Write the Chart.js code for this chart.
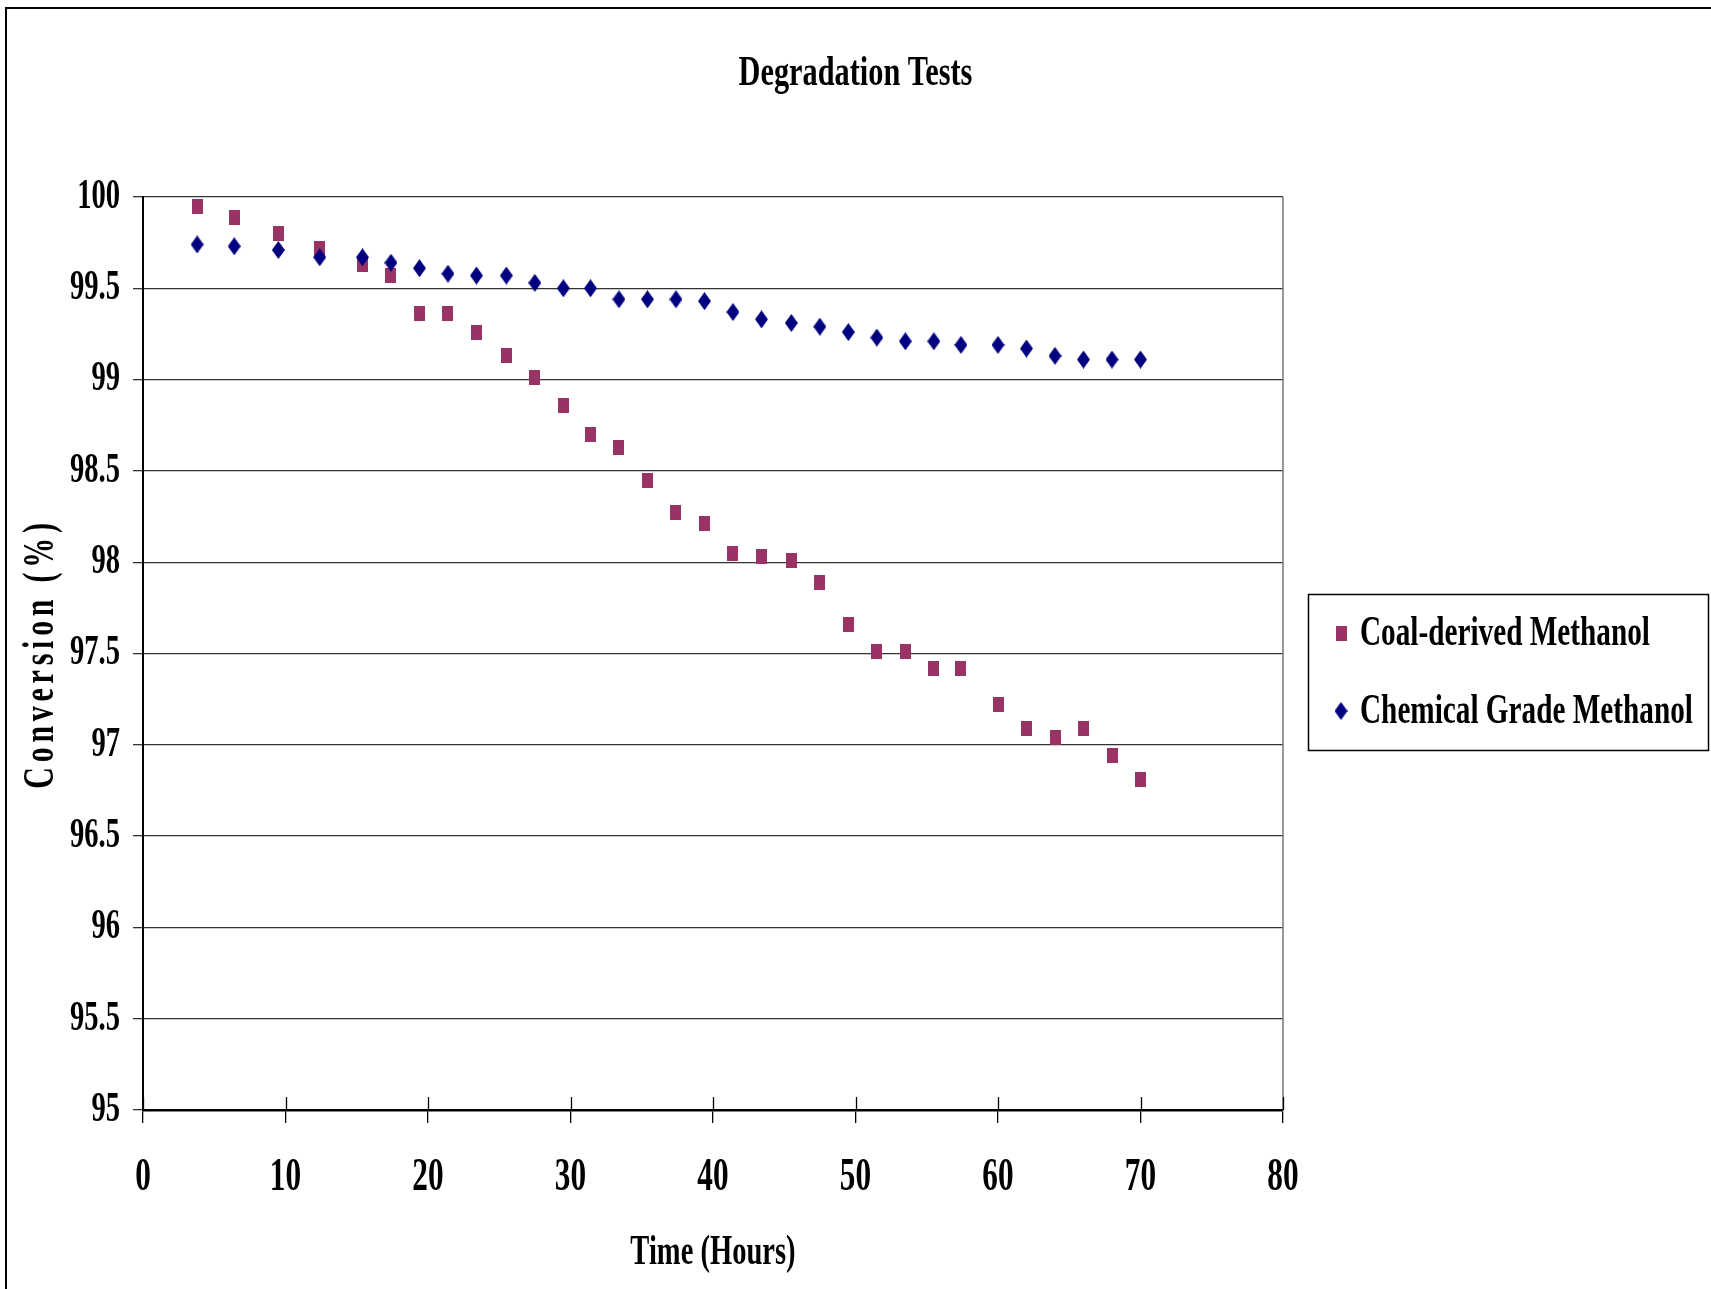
<!DOCTYPE html>
<html>
<head>
<meta charset="utf-8">
<script src="https://cdn.jsdelivr.net/npm/chart.js@4.4.1/dist/chart.umd.min.js"></script>
<style>
  html, body { margin: 0; padding: 0; background: #fff; }
  canvas { display: block; }
</style>
</head>
<body>
<canvas id="c" width="1711" height="1289"></canvas>
<script>
// ---- data ----
const timeHours = [3.8, 6.4, 9.5, 12.4, 15.4, 17.4, 19.4, 21.4, 23.4, 25.5, 27.5, 29.5, 31.4, 33.4, 35.4, 37.4,
                   39.4, 41.4, 43.4, 45.5, 47.5, 49.5, 51.5, 53.5, 55.5, 57.4, 60.0, 62.0, 64.0, 66.0, 68.0, 70.0];
const coalDerived = [99.95, 99.89, 99.80, 99.72, 99.63, 99.57, 99.36, 99.36, 99.26, 99.13, 99.01, 98.86, 98.70, 98.63, 98.45, 98.27,
                     98.21, 98.05, 98.03, 98.01, 97.89, 97.66, 97.51, 97.51, 97.42, 97.42, 97.22, 97.09, 97.04, 97.09, 96.94, 96.81];
const chemicalGrade = [99.74, 99.73, 99.71, 99.67, 99.67, 99.64, 99.61, 99.58, 99.57, 99.57, 99.53, 99.50, 99.50, 99.44, 99.44, 99.44,
                       99.43, 99.37, 99.33, 99.31, 99.29, 99.26, 99.23, 99.21, 99.21, 99.19, 99.19, 99.17, 99.13, 99.11, 99.11, 99.11];
const seriesLabels = ['Coal-derived Methanol', 'Chemical Grade Methanol'];
const xTickLabels = ['0', '10', '20', '30', '40', '50', '60', '70', '80'];
const yTickLabels = ['95', '95.5', '96', '96.5', '97', '97.5', '98', '98.5', '99', '99.5', '100'];
const chartTitle = 'Degradation Tests';
const xTitle = 'Time (Hours)';
const yTitle = 'Conversion (%)';

// ---- styles ----
const FONT = 'Liberation Serif';
const PINK = '#993366';
const NAVY = '#000080';

function makeMarker(w, h, color, diamond) {
  const c = document.createElement('canvas');
  c.width = w; c.height = h;
  const g = c.getContext('2d');
  g.fillStyle = color;
  if (diamond) {
    g.beginPath();
    g.moveTo(w / 2, 0); g.lineTo(w, h / 2); g.lineTo(w / 2, h); g.lineTo(0, h / 2);
    g.closePath(); g.fill();
  } else {
    g.fillRect(0, 0, w, h);
  }
  return c;
}
const squareMarker = makeMarker(11, 15, PINK, false);
const diamondMarker = makeMarker(13, 18, NAVY, true);

const canvas = document.getElementById('c');
const ctx = canvas.getContext('2d');

// Narrow (condensed) rendering of the serif text, like the original.
const origFill = ctx.fillText.bind(ctx);
ctx.fillText = function (text, x, y, maxWidth) {
  let sx = 0.68, ls = '0px';
  if (text === yTitle) { sx = 0.68; ls = '7px'; }
  else if (text === chartTitle) { sx = 0.705; }
  this.save();
  this.translate(x, y);
  this.scale(sx, 1);
  try { this.letterSpacing = ls; } catch (e) {}
  if (maxWidth !== undefined && maxWidth !== null) origFill(text, 0, 0, maxWidth / sx);
  else origFill(text, 0, 0);
  this.restore();
};

const decorPlugin = {
  id: 'decor',
  afterDraw(chart) {
    const c = chart.ctx;
    const a = chart.chartArea;
    c.save();
    // outer frame (top and left edges visible)
    c.strokeStyle = '#000';
    c.lineWidth = 2;
    c.strokeRect(6, 8, 3000, 3000);
    // plot right border
    c.strokeStyle = '#777';
    c.lineWidth = 1.5;
    c.beginPath();
    c.moveTo(a.right, a.top);
    c.lineTo(a.right, a.bottom);
    c.stroke();
    // inner half of x tick marks
    const xs = chart.scales.x;
    c.strokeStyle = '#000';
    c.lineWidth = 1.3;
    xs.ticks.forEach(t => {
      const px = Math.round(xs.getPixelForValue(t.value)) + 0.5;
      c.beginPath();
      c.moveTo(px, a.bottom - 13);
      c.lineTo(px, a.bottom);
      c.stroke();
    });
    // legend
    const lx = 1308, ly = 594, lw = 400, lh = 156;
    c.strokeStyle = '#000';
    c.lineWidth = 1.5;
    c.strokeRect(lx + 0.5, ly + 0.5, lw, lh);
    const items = [
      { label: chart.data.datasets[0].label, img: squareMarker, y: 633 },
      { label: chart.data.datasets[1].label, img: diamondMarker, y: 711 }
    ];
    c.font = 'bold 43px "' + FONT + '"';
    c.fillStyle = '#000';
    c.textBaseline = 'middle';
    c.textAlign = 'left';
    items.forEach(it => {
      c.drawImage(it.img, 1341 - it.img.width / 2, it.y - it.img.height / 2);
      c.fillText(it.label, 1360, it.y + 1);
    });
    c.restore();
  }
};

new Chart(ctx, {
  type: 'scatter',
  data: {
    datasets: [
      {
        label: seriesLabels[0],
        data: timeHours.map((t, i) => ({ x: t, y: coalDerived[i] })),
        pointStyle: squareMarker,
        pointRadius: 6,
        backgroundColor: PINK,
        borderColor: PINK,
        order: 2
      },
      {
        label: seriesLabels[1],
        data: timeHours.map((t, i) => ({ x: t, y: chemicalGrade[i] })),
        pointStyle: diamondMarker,
        pointRadius: 6,
        backgroundColor: NAVY,
        borderColor: NAVY,
        order: 1
      }
    ]
  },
  options: {
    responsive: false,
    animation: false,
    devicePixelRatio: 1,
    layout: { padding: { left: 0, right: 0, top: 0, bottom: 0 } },
    plugins: {
      legend: { display: false },
      tooltip: { enabled: false },
      title: {
        display: true,
        text: chartTitle,
        color: '#000',
        font: { family: FONT, size: 43, weight: 'bold', lineHeight: 1.2 },
        padding: { top: 48, bottom: 97.4 }
      }
    },
    scales: {
      x: {
        type: 'linear',
        min: 0, max: 80,
        afterFit: s => { s.height = 179; },
        ticks: {
          stepSize: 10,
          color: '#000',
          padding: 28,
          maxRotation: 0,
          font: { family: FONT, size: 46, weight: 'bold' },
          callback: v => xTickLabels[Math.round(v / 10)]
        },
        grid: { drawOnChartArea: false, drawTicks: true, tickLength: 13, color: '#000', lineWidth: 1.3 },
        border: { display: true, color: '#000', width: 2.5 },
        title: {
          display: true,
          text: xTitle,
          color: '#000',
          font: { family: FONT, size: 42, weight: 'bold', lineHeight: 1.2 },
          padding: { top: 0, bottom: 11 }
        }
      },
      y: {
        type: 'linear',
        min: 95, max: 100,
        afterFit: s => { s.width = 143; },
        ticks: {
          stepSize: 0.5,
          color: '#000',
          padding: 13,
          font: { family: FONT, size: 42, weight: 'bold' },
          callback: v => yTickLabels[Math.round((v - 95) * 2)]
        },
        grid: { color: '#333', lineWidth: 1.3, tickLength: 10 },
        border: { display: true, color: '#000', width: 2 },
        title: {
          display: true,
          text: yTitle,
          color: '#000',
          font: { family: FONT, size: 44, weight: 'bold', lineHeight: 1.2 },
          padding: { top: 15.6, bottom: 0 }
        }
      },
      // empty right-hand space reserved for the legend box
      legendSpace: {
        type: 'linear',
        position: 'right',
        min: 95, max: 100,
        afterFit: s => { s.width = 428; },
        ticks: { display: false },
        grid: { display: false, drawTicks: false },
        border: { display: false }
      }
    }
  },
  plugins: [decorPlugin]
});
</script>
</body>
</html>
